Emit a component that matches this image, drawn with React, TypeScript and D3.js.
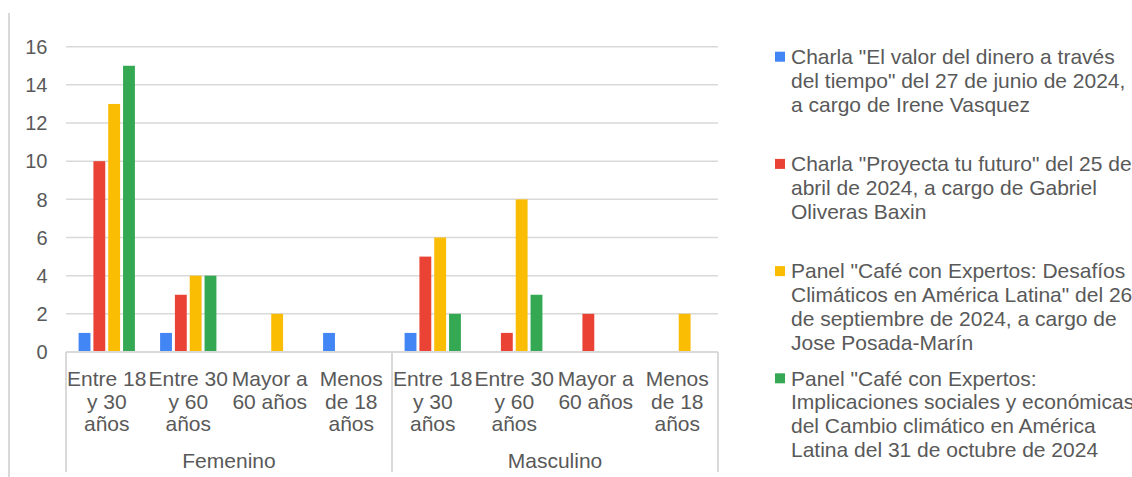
import React from "react";
import * as d3 from "d3";

const groups = ["Femenino", "Masculino"];
const ageLabels: string[][] = [
  ["Entre 18", "y 30", "años"],
  ["Entre 30", "y 60", "años"],
  ["Mayor a", "60 años"],
  ["Menos", "de 18", "años"],
];
const seriesNames = [
  "Charla \"El valor del dinero a través del tiempo\" del 27 de junio de 2024, a cargo de Irene Vasquez",
  "Charla \"Proyecta tu futuro\" del 25 de abril de 2024, a cargo de Gabriel Oliveras Baxin",
  "Panel \"Café con Expertos: Desafíos Climáticos en América Latina\" del 26 de septiembre de 2024, a cargo de Jose Posada-Marín",
  "Panel \"Café con Expertos: Implicaciones sociales y económicas del Cambio climático en América Latina del 31 de octubre de 2024",
];
const legendLines: string[][] = [
  ["Charla \"El valor del dinero a través", "del tiempo\" del 27 de junio de 2024,", "a cargo de Irene Vasquez"],
  ["Charla \"Proyecta tu futuro\" del 25 de", "abril de 2024, a cargo de Gabriel", "Oliveras Baxin"],
  ["Panel \"Café con Expertos: Desafíos", "Climáticos en América Latina\" del 26", "de septiembre de 2024, a cargo de", "Jose Posada-Marín"],
  ["Panel \"Café con Expertos:", "Implicaciones sociales y económicas", "del Cambio climático en América", "Latina del 31 de octubre de 2024"],
];
// values per series: [Femenino x4 ages, Masculino x4 ages]
const serieValor = [1, 1, 0, 1, 1, 0, 0, 0];
const serieProyecta = [10, 3, 0, 0, 5, 1, 2, 0];
const serieDesafios = [13, 4, 2, 0, 6, 8, 0, 2];
const serieImplicaciones = [15, 4, 0, 0, 2, 3, 0, 0];
const seriesValues = [serieValor, serieProyecta, serieDesafios, serieImplicaciones];
const colors = ["#4285F4", "#EA4335", "#FBBC04", "#34A853"];
const yTicks = [0, 2, 4, 6, 8, 10, 12, 14, 16];

const FONT = "'Liberation Sans', Arial, sans-serif";
const TEXT = "#595959";
const GRID = "#d9d9d9";

export default function App() {
  const W = 1132, H = 477;
  const left = 66, right = 718, top = 46.7, bottom = 352;
  const catKeys = d3.range(groups.length * ageLabels.length).map(String);
  const x0 = d3.scaleBand<string>().domain(catKeys).range([left, right]).padding(0);
  const x1 = d3.scaleBand<string>()
    .domain(seriesNames.map((_, i) => String(i)))
    .range([0, x0.bandwidth()])
    .paddingInner(0.2)
    .paddingOuter(0.85);
  const y = d3.scaleLinear().domain([0, 16]).range([bottom, top]);
  const groupW = (right - left) / groups.length;

  return (
    <svg width={W} height={H} style={{ position: "absolute", left: 0, top: 0, background: "#fff" }} fontFamily={FONT}>
      <rect x={0} y={0} width={W} height={H} fill="#fff" />
      <line x1={9} x2={9} y1={13} y2={477} stroke={GRID} strokeWidth={2} />
      {yTicks.map((t) => (
        <g key={t}>
          {t > 0 && <line x1={left} x2={right} y1={y(t)} y2={y(t)} stroke={GRID} strokeWidth={1.5} />}
          <text x={47.5} y={y(t) + 7.3} textAnchor="end" fontSize={20} fill={TEXT}>{t}</text>
        </g>
      ))}
      {seriesValues.map((vals, si) =>
        vals.map((v, ci) =>
          v > 0 ? (
            <rect
              key={`${si}-${ci}`}
              x={(x0(String(ci)) as number) + (x1(String(si)) as number)}
              y={y(v)}
              width={x1.bandwidth()}
              height={y(0) - y(v)}
              fill={colors[si]}
            />
          ) : null
        )
      )}
      <line x1={left} x2={right} y1={bottom} y2={bottom} stroke={GRID} strokeWidth={2} />
      {d3.range(groups.length + 1).map((i) => (
        <line key={i} x1={left + i * groupW} x2={left + i * groupW} y1={bottom} y2={472} stroke={GRID} strokeWidth={2} />
      ))}
      {catKeys.map((k, ci) => {
        const lines = ageLabels[ci % ageLabels.length];
        const cx = (x0(k) as number) + x0.bandwidth() / 2;
        return (
          <text key={k} textAnchor="middle" fontSize={21} fill={TEXT}>
            {lines.map((ln, li) => (
              <tspan key={li} x={cx} y={386 + li * 22.7}>{ln}</tspan>
            ))}
          </text>
        );
      })}
      {groups.map((g, gi) => (
        <text key={g} x={left + groupW * (gi + 0.5)} y={467.5} textAnchor="middle" fontSize={21} fill={TEXT}>{g}</text>
      ))}
      {legendLines.map((lines, si) => {
        const base = 64 + si * 107.2;
        return (
          <g key={si}>
            <rect x={775} y={base - 12.3} width={10} height={10} fill={colors[si]} />
            <text fontSize={21} fill={TEXT}>
              {lines.map((ln, li) => (
                <tspan key={li} x={791} y={base + li * 23.8}>{ln}</tspan>
              ))}
            </text>
          </g>
        );
      })}
    </svg>
  );
}
